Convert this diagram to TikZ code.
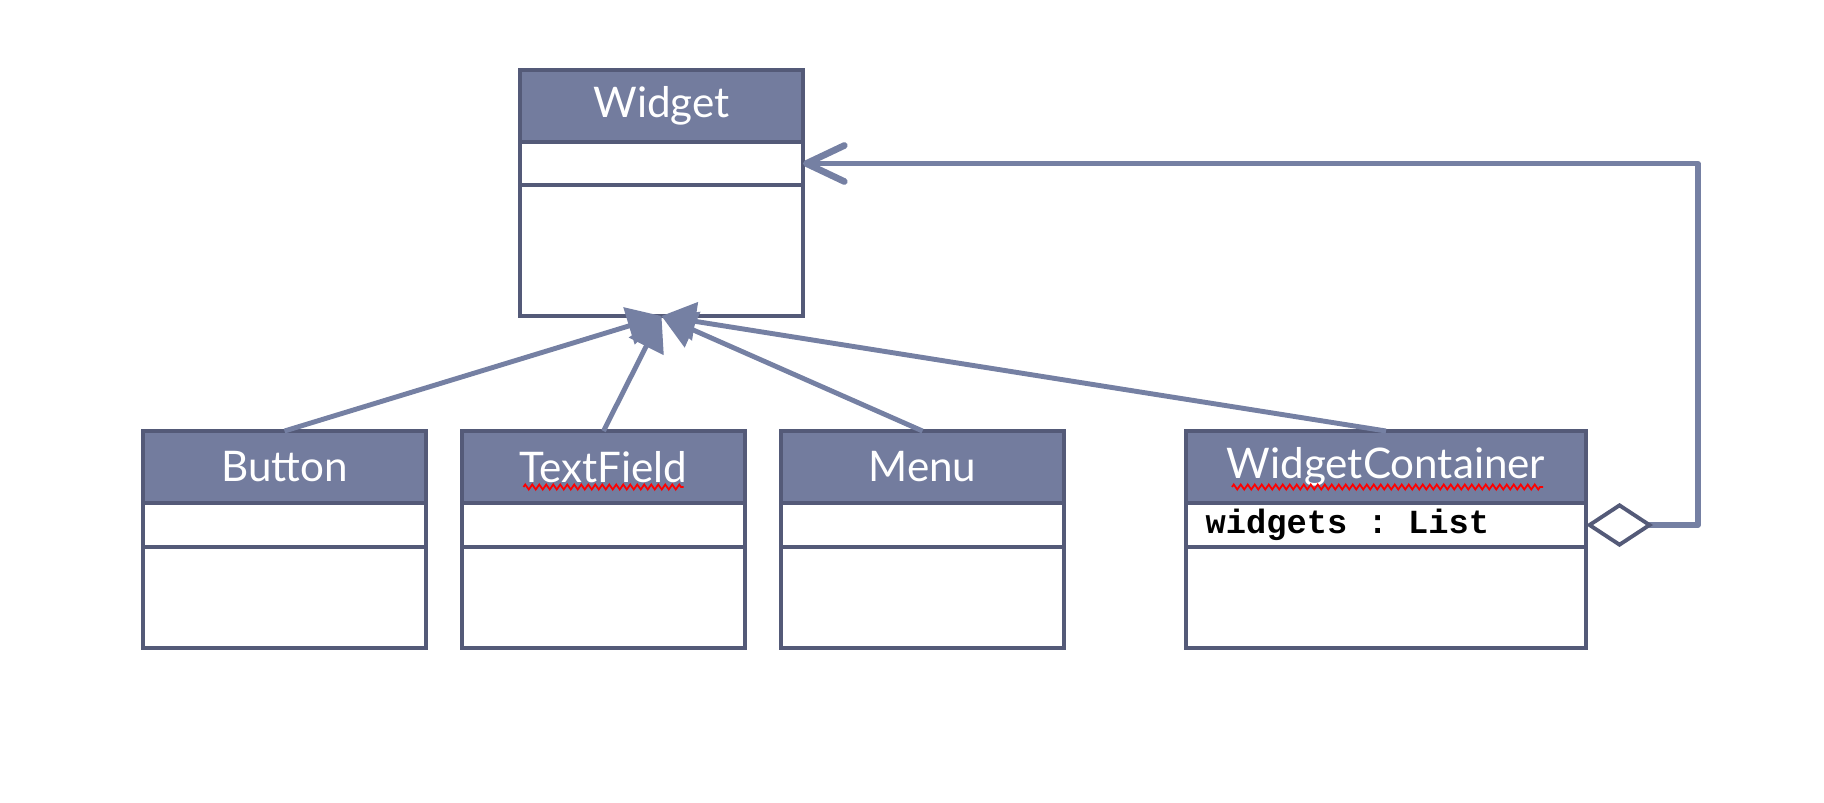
\documentclass[tikz,border=0pt]{standalone}
\usepackage{fontspec}
\setsansfont{Lato}
\setmonofont{Liberation Mono}
\usetikzlibrary{arrows.meta,positioning,decorations.pathmorphing}

\definecolor{headfill}{HTML}{737C9E}
\definecolor{boxline}{HTML}{545A78}
\definecolor{linkline}{HTML}{7580A3}

\tikzset{
  classhead/.style={rectangle, draw=boxline, fill=headfill, line width=1.1pt, minimum width=28.3mm,
    minimum height=7.2mm, inner sep=0pt, outer sep=0pt, text=white, font=\sffamily\fontsize{12}{13}\selectfont},
  classpart/.style={rectangle, draw=boxline, fill=white, line width=1.1pt, minimum width=28.3mm,
    inner sep=0pt, outer sep=0pt},
  attrtext/.style={inner sep=0pt, font=\ttfamily\bfseries\fontsize{9.6}{11}\selectfont},
  inherit/.style={draw=linkline, line width=1.4pt, -{Triangle[length=3.4mm,width=3.8mm]}},
  aggregate/.style={draw=linkline, line width=1.5pt, line join=round,
    {Diamond[open,fill=white,color=boxline,line width=1.1pt,length=6.7mm,width=4.4mm]}-{Straight Barb[length=3.8mm,width=3.6mm,round,line width=1.9pt]}},
  spellmark/.style={draw=red, line width=0.5pt, decorate, decoration={zigzag, segment length=0.7mm, amplitude=0.25mm}}
}

\begin{document}
\begin{tikzpicture}
        \useasboundingbox (0,0) rectangle (182.4mm,-80.2mm);
        % superclass
        \node[classhead] (widget) at (66.15mm,-10.6mm) {Widget};
        \node[classpart, minimum height=4.3mm, below=0pt of widget] (widget-attr) {};
        \node[classpart, minimum height=13.1mm, below=0pt of widget-attr] (widget-ops) {};
        % subclasses
        \node[classhead] (button) at (28.45mm,-46.7mm) {Button};
        \node[classpart, minimum height=4.4mm, below=0pt of button] (button-attr) {};
        \node[classpart, minimum height=10.1mm, below=0pt of button-attr] (button-ops) {};
        \node[classhead, right=3.6mm of button] (textfield) {TextField};
        \node[classpart, minimum height=4.4mm, below=0pt of textfield] (textfield-attr) {};
        \node[classpart, minimum height=10.1mm, below=0pt of textfield-attr] (textfield-ops) {};
        \node[classhead, right=3.6mm of textfield] (menu) {Menu};
        \node[classpart, minimum height=4.4mm, below=0pt of menu] (menu-attr) {};
        \node[classpart, minimum height=10.1mm, below=0pt of menu-attr] (menu-ops) {};
        \node[classhead, minimum width=40mm, right=12.2mm of menu] (wc) {WidgetContainer};
        \node[classpart, minimum width=40mm, minimum height=4.4mm, below=0pt of wc] (wc-attr) {};
        \node[classpart, minimum width=40mm, minimum height=10.1mm, below=0pt of wc-attr] (wc-ops) {};
        \node[attrtext, right=1.9mm of wc-attr.west] (wc-widgets) {widgets : List};
        % spell check marks
        \draw[spellmark] ([shift={(-8mm,-2mm)}]textfield.center) -- ([shift={(8mm,-2mm)}]textfield.center);
        \draw[spellmark] ([shift={(-15.4mm,-2mm)}]wc.center) -- ([shift={(15.7mm,-2mm)}]wc.center);
        % connectors
        \draw[inherit] (button.north) -- (widget-ops.south);
        \draw[inherit] (textfield.north) -- (widget-ops.south);
        \draw[inherit] (menu.north) -- (widget-ops.south);
        \draw[inherit] (wc.north) -- (widget-ops.south);
        \draw[aggregate] (wc-attr.east) -- ++(11.2mm,0) |- (widget-attr.east);
      \end{tikzpicture}
\end{document}
